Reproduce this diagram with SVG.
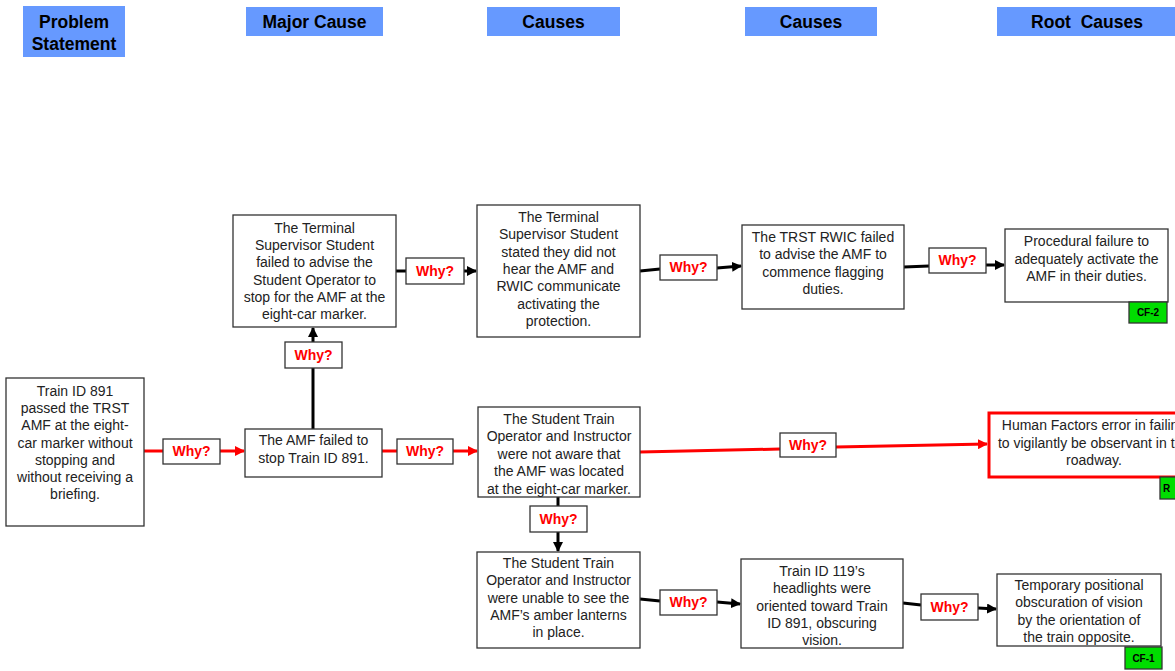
<svg xmlns="http://www.w3.org/2000/svg" width="1175" height="671" viewBox="0 0 1175 671">
<style>
.hdr{fill:#6699FF}
.ht{font-family:"Liberation Sans",Arial,sans-serif;font-size:17.5px;font-weight:bold;fill:#000;text-anchor:middle}
.box{fill:#fff;stroke:#333;stroke-width:1.3}
.rbox{fill:#fff;stroke:#FF0000;stroke-width:3}
.t{font-family:"Liberation Sans",Arial,sans-serif;font-size:14px;fill:#222;text-anchor:middle}
.why{fill:#fff;stroke:#333;stroke-width:1.3}
.wt{font-family:"Liberation Sans",Arial,sans-serif;font-size:14px;font-weight:bold;fill:#FF0000;text-anchor:middle}
.cf{fill:#00DD00;stroke:#333;stroke-width:1.3}
.cft{font-family:"Liberation Sans Narrow","Liberation Sans",Arial,sans-serif;font-size:10px;font-weight:bold;fill:#000;text-anchor:middle}
.bk{stroke:#000;stroke-width:3;fill:none}
.rd{stroke:#FF0000;stroke-width:3;fill:none}
</style>
<defs>
<marker id="ab" markerUnits="userSpaceOnUse" markerWidth="10" markerHeight="10" refX="9" refY="5" orient="auto"><path d="M0,0 L10,5 L0,10 z" fill="#000"/></marker>
<marker id="ar" markerUnits="userSpaceOnUse" markerWidth="10" markerHeight="10" refX="9" refY="5" orient="auto"><path d="M0,0 L10,5 L0,10 z" fill="#FF0000"/></marker>
</defs>
<rect width="1175" height="671" fill="#fff"/>

<g id="headers">
<g id="h-problem"><rect class="hdr" x="23" y="6" width="102" height="51"/><text class="ht" x="74" y="28">Problem</text><text class="ht" x="74" y="50">Statement</text></g>
<g id="h-major"><rect class="hdr" x="246" y="7" width="137" height="29"/><text class="ht" x="314.5" y="28">Major Cause</text></g>
<g id="h-causes1"><rect class="hdr" x="487" y="7" width="133" height="29"/><text class="ht" x="553.5" y="28">Causes</text></g>
<g id="h-causes2"><rect class="hdr" x="745" y="7" width="132" height="29"/><text class="ht" x="811" y="28">Causes</text></g>
<g id="h-root"><rect class="hdr" x="997" y="7" width="190" height="29"/><text class="ht" x="1087" y="28" xml:space="preserve">Root  Causes</text></g>
</g>

<g id="connectors">
<line class="rd" x1="144" y1="451" x2="163" y2="451"/>
<line class="rd" x1="220" y1="451" x2="244" y2="451" marker-end="url(#ar)"/>
<line class="rd" x1="382" y1="451" x2="397" y2="451"/>
<line class="rd" x1="453" y1="451" x2="477" y2="451" marker-end="url(#ar)"/>
<line class="bk" x1="313" y1="429" x2="313" y2="368"/>
<line class="bk" x1="313" y1="342" x2="313" y2="328" marker-end="url(#ab)"/>
<line class="bk" x1="396" y1="271" x2="406" y2="271"/>
<line class="bk" x1="464" y1="271" x2="476" y2="271" marker-end="url(#ab)"/>
<line class="bk" x1="640" y1="271" x2="660" y2="269"/>
<line class="bk" x1="717" y1="268" x2="741" y2="266" marker-end="url(#ab)"/>
<line class="bk" x1="904" y1="267" x2="929" y2="266"/>
<line class="bk" x1="986" y1="265" x2="1004" y2="265" marker-end="url(#ab)"/>
<line class="rd" x1="640" y1="452" x2="780" y2="449"/>
<line class="rd" x1="836" y1="447" x2="987" y2="444" marker-end="url(#ar)"/>
<line class="bk" x1="558" y1="497" x2="558" y2="506"/>
<line class="bk" x1="558" y1="532" x2="558" y2="551" marker-end="url(#ab)"/>
<line class="bk" x1="640" y1="599" x2="660" y2="601"/>
<line class="bk" x1="717" y1="602" x2="740" y2="604" marker-end="url(#ab)"/>
<line class="bk" x1="903" y1="603" x2="921" y2="605"/>
<line class="bk" x1="978" y1="608" x2="996" y2="609" marker-end="url(#ab)"/>
</g>

<g id="why-labels">
<g id="w1"><rect class="why" x="163" y="439" width="57" height="25"/><text class="wt" x="191.5" y="456">Why?</text></g>
<g id="w2"><rect class="why" x="397" y="439" width="56" height="25"/><text class="wt" x="425" y="456">Why?</text></g>
<g id="w3"><rect class="why" x="285" y="342" width="57" height="26"/><text class="wt" x="313.5" y="360">Why?</text></g>
<g id="w4"><rect class="why" x="406" y="258" width="58" height="26"/><text class="wt" x="435" y="276">Why?</text></g>
<g id="w5"><rect class="why" x="660" y="255" width="57" height="25"/><text class="wt" x="688.5" y="272">Why?</text></g>
<g id="w6"><rect class="why" x="929" y="248" width="57" height="25"/><text class="wt" x="957.5" y="265">Why?</text></g>
<g id="w7"><rect class="why" x="780" y="433" width="56" height="24"/><text class="wt" x="808" y="450">Why?</text></g>
<g id="w8"><rect class="why" x="530" y="506" width="57" height="26"/><text class="wt" x="558.5" y="524">Why?</text></g>
<g id="w9"><rect class="why" x="660" y="590" width="57" height="25"/><text class="wt" x="688.5" y="607">Why?</text></g>
<g id="w10"><rect class="why" x="921" y="594" width="57" height="26"/><text class="wt" x="949.5" y="612">Why?</text></g>
</g>

<g id="n-problem"><rect class="box" x="6" y="378" width="138" height="148"/>
<text class="t" x="75" y="396"><tspan x="75">Train ID 891</tspan><tspan x="75" dy="17.2">passed the TRST</tspan><tspan x="75" dy="17.2">AMF at the eight-</tspan><tspan x="75" dy="17.2">car marker without</tspan><tspan x="75" dy="17.2">stopping and</tspan><tspan x="75" dy="17.2">without receiving a</tspan><tspan x="75" dy="17.2">briefing.</tspan></text></g>

<g id="n-amf"><rect class="box" x="245" y="429" width="137" height="48"/>
<text class="t" x="313.5" y="445"><tspan x="313.5">The AMF failed to</tspan><tspan x="313.5" dy="17.5">stop Train ID 891.</tspan></text></g>

<g id="n-tss-failed"><rect class="box" x="233" y="215" width="163" height="112"/>
<text class="t" x="314.5" y="233"><tspan x="314.5">The Terminal</tspan><tspan x="314.5" dy="17.2">Supervisor Student</tspan><tspan x="314.5" dy="17.2">failed to advise the</tspan><tspan x="314.5" dy="17.2">Student Operator to</tspan><tspan x="314.5" dy="17.2">stop for the AMF at the</tspan><tspan x="314.5" dy="17.2">eight-car marker.</tspan></text></g>

<g id="n-tss-stated"><rect class="box" x="477" y="205" width="163" height="132"/>
<text class="t" x="558.5" y="222"><tspan x="558.5">The Terminal</tspan><tspan x="558.5" dy="17.3">Supervisor Student</tspan><tspan x="558.5" dy="17.3">stated they did not</tspan><tspan x="558.5" dy="17.3">hear the AMF and</tspan><tspan x="558.5" dy="17.3">RWIC communicate</tspan><tspan x="558.5" dy="17.3">activating the</tspan><tspan x="558.5" dy="17.3">protection.</tspan></text></g>

<g id="n-trst"><rect class="box" x="742" y="225" width="162" height="84"/>
<text class="t" x="823" y="242"><tspan x="823">The TRST RWIC failed</tspan><tspan x="823" dy="17.3">to advise the AMF to</tspan><tspan x="823" dy="17.3">commence flagging</tspan><tspan x="823" dy="17.3">duties.</tspan></text></g>

<g id="n-procedural"><rect class="box" x="1005" y="229" width="163" height="73"/>
<text class="t" x="1086.5" y="246"><tspan x="1086.5">Procedural failure to</tspan><tspan x="1086.5" dy="17.5">adequately activate the</tspan><tspan x="1086.5" dy="17.5">AMF in their duties.</tspan></text>
<rect class="cf" x="1129" y="302" width="38" height="21"/><text class="cft" x="1148" y="316">CF-2</text></g>

<g id="n-not-aware"><rect class="box" x="478" y="407" width="162" height="90"/>
<text class="t" x="559" y="424"><tspan x="559">The Student Train</tspan><tspan x="559" dy="17.4">Operator and Instructor</tspan><tspan x="559" dy="17.4">were not aware that</tspan><tspan x="559" dy="17.4">the AMF was located</tspan><tspan x="559" dy="17.4">at the eight-car marker.</tspan></text></g>

<g id="n-human"><rect class="rbox" x="989" y="413" width="220" height="64"/>
<text class="t" x="1094" y="430"><tspan x="1094">Human Factors error in failing</tspan><tspan x="1094" dy="17.5">to vigilantly be observant in the</tspan><tspan x="1094" dy="17.5">roadway.</tspan></text>
<rect class="cf" x="1160" y="477" width="38" height="22"/><text class="cft" x="1163" y="492" style="text-anchor:start">R</text></g>

<g id="n-unable"><rect class="box" x="477" y="552" width="163" height="96"/>
<text class="t" x="558.5" y="568"><tspan x="558.5">The Student Train</tspan><tspan x="558.5" dy="17.3">Operator and Instructor</tspan><tspan x="558.5" dy="17.3">were unable to see the</tspan><tspan x="558.5" dy="17.3">AMF’s amber lanterns</tspan><tspan x="558.5" dy="17.3">in place.</tspan></text></g>

<g id="n-train119"><rect class="box" x="741" y="559" width="162" height="89"/>
<text class="t" x="822" y="576"><tspan x="822">Train ID 119’s</tspan><tspan x="822" dy="17.3">headlights were</tspan><tspan x="822" dy="17.3">oriented toward Train</tspan><tspan x="822" dy="17.3">ID 891, obscuring</tspan><tspan x="822" dy="17.3">vision.</tspan></text></g>

<g id="n-temporary"><rect class="box" x="997" y="574" width="164" height="72"/>
<text class="t" x="1079" y="590"><tspan x="1079">Temporary positional</tspan><tspan x="1079" dy="17.3">obscuration of vision</tspan><tspan x="1079" dy="17.3">by the orientation of</tspan><tspan x="1079" dy="17.3">the train opposite.</tspan></text>
<rect class="cf" x="1125" y="647" width="37" height="22"/><text class="cft" x="1143.5" y="662">CF-1</text></g>
</svg>
